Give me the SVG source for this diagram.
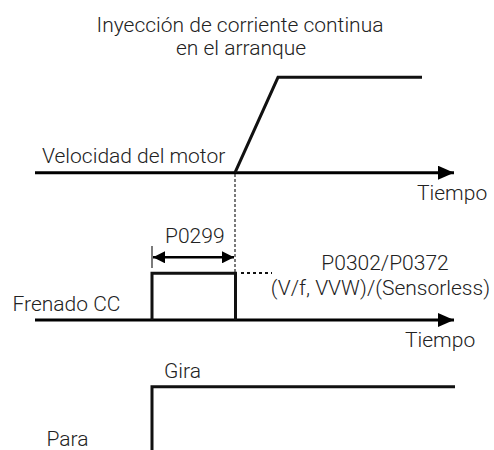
<svg xmlns="http://www.w3.org/2000/svg" width="494" height="450" viewBox="0 0 494 450">
<style>
text{font-family:Roboto,"Liberation Sans",Arial,sans-serif;font-weight:300;font-size:21px;fill:#222}
.ax{stroke:#000;stroke-width:3;fill:none}
.sig{stroke:#111;stroke-width:3;fill:none;stroke-linejoin:miter}
.thin{stroke:#222;stroke-width:1.2;fill:none}
</style>
<defs>
<marker id="big" viewBox="0 0 16 14" refX="16" refY="7" markerWidth="16" markerHeight="14" markerUnits="userSpaceOnUse" orient="auto"><path d="M0,0L16,7L0,14z" fill="#000"/></marker>
<marker id="dim" viewBox="0 0 12 12" refX="12" refY="6" markerWidth="12" markerHeight="12" markerUnits="userSpaceOnUse" orient="auto-start-reverse"><path d="M0,0L12,6L0,12z" fill="#000"/></marker>
</defs>
<g id="title"><text x="240" y="32" text-anchor="middle">Inyección de corriente continua</text><text x="241" y="54.5" text-anchor="middle">en el arranque</text></g>
<g id="connectors">
<line class="ax" x1="35" y1="172.7" x2="454" y2="172.7" marker-end="url(#big)"/>
<line class="ax" x1="35" y1="320" x2="454" y2="320" marker-end="url(#big)"/>
<line class="thin" x1="235" y1="174" x2="235" y2="273" stroke-dasharray="3,2"/>
<line class="thin" x1="152" y1="246" x2="152" y2="268" stroke-width="1.6"/>
<line x1="153" y1="257.3" x2="234" y2="257.3" stroke="#000" stroke-width="2.5" marker-start="url(#dim)" marker-end="url(#dim)"/>
<line x1="241" y1="273" x2="272" y2="273" stroke="#111" stroke-width="2" stroke-dasharray="3,3"/>
</g>
<g id="speed"><polyline class="sig" points="235,172.7 278,77.3 422,77.3"/><text x="42" y="163">Velocidad del motor</text><text x="417" y="200">Tiempo</text></g>
<g id="brake"><polyline class="sig" points="152,320 152,273.3 235.5,273.3 235.5,320"/><text x="12.5" y="311">Frenado CC</text><text x="405" y="347">Tiempo</text><text x="165" y="243">P0299</text><text x="385" y="270" text-anchor="middle">P0302/P0372</text><text x="490" y="295" text-anchor="end">(V/f, VVW)/(Sensorless)</text></g>
<g id="run"><polyline class="sig" points="152,452 152,386.7 455,386.7"/><text x="164" y="377.5">Gira</text><text x="46.5" y="446">Para</text></g>
</svg>
